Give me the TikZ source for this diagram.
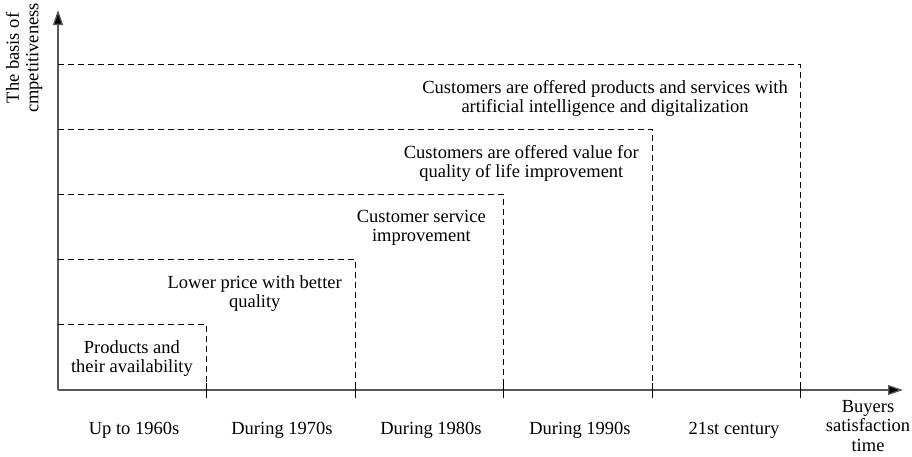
\documentclass[tikz,border=0pt]{standalone}
\usepackage{fontspec}
\setmainfont{Liberation Serif}
\usetikzlibrary{arrows.meta}
\begin{document}
\begin{tikzpicture}[x=1pt,y=-1pt,
  every node/.style={font=\fontsize{18.5}{19.5}\selectfont, inner sep=0pt},
  axis/.style={draw=black!65, line width=1.3pt, -{Triangle[length=15pt,width=10pt,fill=black]}},
  stepline/.style={draw=black, line width=0.9pt, dash pattern=on 6pt off 4pt},
  tick/.style={draw=black, line width=0.9pt},
  steptext/.style={align=center, anchor=north east},
  period/.style={anchor=base}]
\useasboundingbox (0,0) rectangle (912,456);

% axes
\coordinate (O) at (58,390);
\coordinate (ytop) at (58,10);
\coordinate (xend) at (903,390);
\draw[axis] (O) -- (ytop);
\draw[axis] (O) -- (xend);

% staircase of dashed levels
\coordinate (t1) at (58,324); \coordinate (c1) at (206,324); \coordinate (b1) at (206,390);
\coordinate (t2) at (58,259); \coordinate (c2) at (355,259); \coordinate (b2) at (355,390);
\coordinate (t3) at (58,194); \coordinate (c3) at (503,194); \coordinate (b3) at (503,390);
\coordinate (t4) at (58,129); \coordinate (c4) at (652,129); \coordinate (b4) at (652,390);
\coordinate (t5) at (58,64);  \coordinate (c5) at (800,64);  \coordinate (b5) at (800,390);
\foreach \i in {1,...,5}{
  \draw[stepline] (t\i) -- (c\i) -- (b\i);
  \draw[tick] ([yshift=-8pt]b\i) -- ([yshift=7pt]b\i);
}

% level descriptions
\node[steptext] (s1) at (193,340) {Products and\\their availability};
\node[steptext] (s2) at (342,275) {Lower price with better\\quality};
\node[steptext] (s3) at (486,210) {Customer service\\improvement};
\node[steptext] (s4) at (639,145) {Customers are offered value for\\quality of life improvement};
\node[steptext] (s5) at (788,80) {Customers are offered products and services with\\artificial intelligence and digitalization};

% periods
\node[period] (p1) at (134,434) {Up to 1960s};
\node[period] (p2) at (282,434) {During 1970s};
\node[period] (p3) at (431,434) {During 1980s};
\node[period] (p4) at (580,434) {During 1990s};
\node[period] (p5) at (734,434) {21st century};

% axis titles
\node[align=center, anchor=north] (xl) at (868,400) {Buyers\\satisfaction\\time};
\node[align=center, rotate=90] (yl) at (24,58) {The basis of\\cmpetitiveness};
\end{tikzpicture}
\end{document}
